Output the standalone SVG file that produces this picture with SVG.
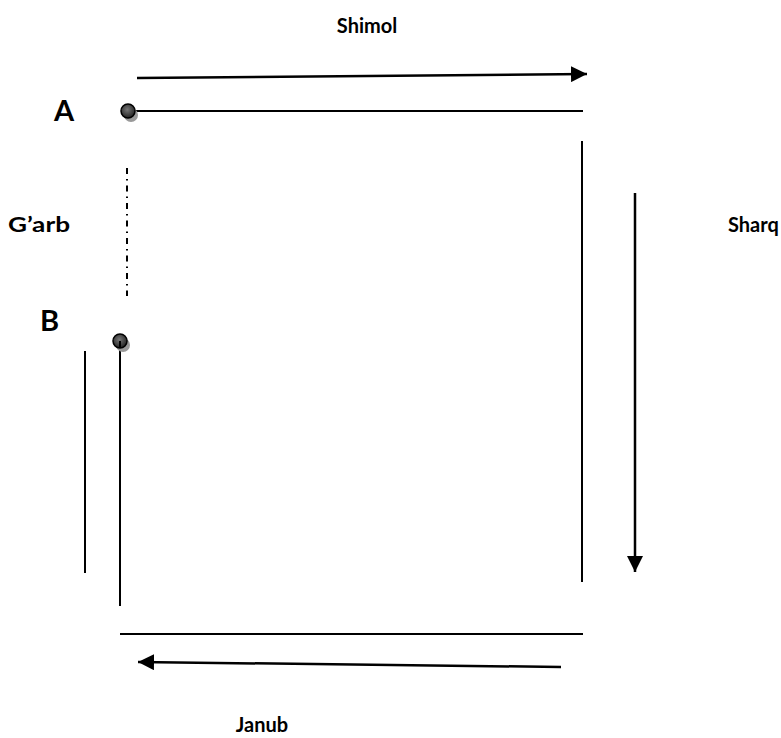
<svg xmlns="http://www.w3.org/2000/svg" width="781" height="738" viewBox="0 0 781 738">
<defs>
<marker id="ah" viewBox="0 0 16 16" refX="16" refY="8" markerWidth="16" markerHeight="16" markerUnits="userSpaceOnUse" orient="auto">
<path d="M0,0 L16,8 L0,16 Z" fill="#000"/>
</marker>
<radialGradient id="ball" cx="0.45" cy="0.4" r="0.6">
<stop offset="0" stop-color="#777"/>
<stop offset="1" stop-color="#222"/>
</radialGradient>
</defs>
<style>
.ln{stroke:#000;stroke-width:2;fill:none}
.ar{stroke:#000;stroke-width:2.5;fill:none;marker-end:url(#ah)}
.lbl{font-family:Lato,"Open Sans",sans-serif;font-weight:bold;fill:#000;font-size:20px}
.big{font-family:Lato,"Open Sans",sans-serif;font-weight:bold;fill:#000;font-size:29px}
</style>
<rect width="781" height="738" fill="#fff"/>
<g id="connectors">
<line class="ar" x1="137" y1="78" x2="587" y2="74"/>
<line class="ln" x1="128" y1="111" x2="583" y2="111"/>
<line class="ln" x1="582" y1="141" x2="582" y2="582"/>
<line class="ar" x1="635" y1="193" x2="635" y2="572"/>
<line class="ln" x1="120" y1="634" x2="583" y2="634"/>
<line class="ar" x1="561" y1="667" x2="138" y2="662"/>
<line class="ln" x1="85" y1="351" x2="85" y2="573"/>
<line class="ln" x1="120" y1="343" x2="120" y2="606"/>
<line stroke="#000" stroke-width="2" stroke-dasharray="6,5,1.5,5" x1="127" y1="168" x2="127" y2="296"/>
</g>
<g id="nodeA">
<circle cx="131" cy="115" r="7" fill="#999"/>
<circle cx="128" cy="111" r="7" fill="url(#ball)" stroke="#000" stroke-width="1.5"/>
<text class="big" x="54" y="121">A</text>
</g>
<g id="nodeB">
<circle cx="123" cy="345" r="7" fill="#999"/>
<circle cx="120" cy="341" r="7" fill="url(#ball)" stroke="#000" stroke-width="1.5"/>
<line class="ln" x1="120" y1="341" x2="120" y2="348"/>
<text class="big" x="40" y="331">B</text>
</g>
<g id="labels">
<text class="lbl" x="367" y="33" text-anchor="middle">Shimol</text>
<text class="lbl" x="8" y="232" textLength="62" lengthAdjust="spacingAndGlyphs">G’arb</text>
<text class="lbl" x="728" y="232">Sharq</text>
<text class="lbl" x="262" y="732" text-anchor="middle">Janub</text>
</g>
</svg>
